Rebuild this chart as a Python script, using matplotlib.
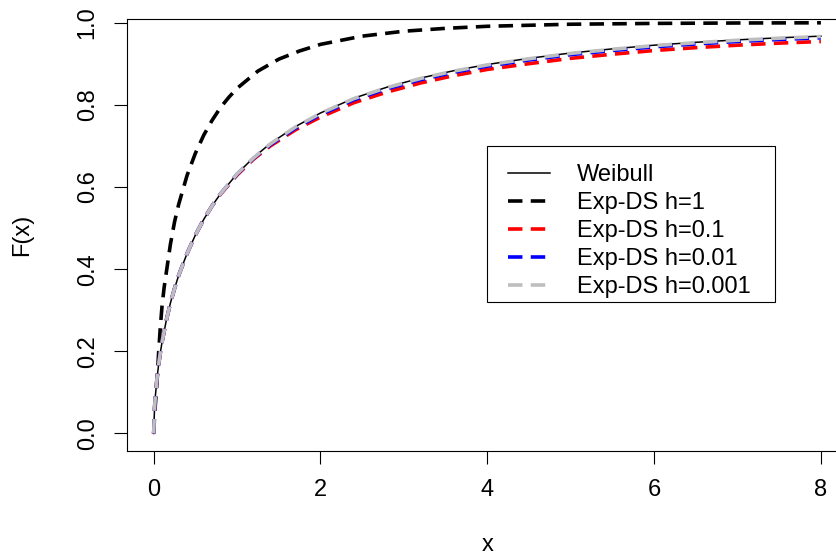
import matplotlib
matplotlib.use("Agg")
import matplotlib.pyplot as plt
from matplotlib.patches import Rectangle

plt.rcParams.update({
    'font.family': ['Liberation Sans', 'DejaVu Sans'],
    'font.size': 17,
})

# values
x_weibull = [0, 0.01, 0.02, 0.04, 0.06, 0.08, 0.1, 0.15, 0.2, 0.25, 0.3, 0.4, 0.5,
             0.6, 0.7, 0.8, 1.0, 1.2, 1.4, 1.7, 2.0, 2.4, 2.8, 3.2, 3.6, 4.0, 4.5,
             5.0, 5.5, 6.0, 6.5, 7.0, 7.5, 8.0]
F_weibull = [0, 0.061, 0.091, 0.135, 0.169, 0.197, 0.222, 0.274, 0.317, 0.353, 0.385,
             0.438, 0.483, 0.521, 0.554, 0.583, 0.632, 0.672, 0.706, 0.747, 0.780,
             0.816, 0.843, 0.865, 0.883, 0.898, 0.913, 0.926, 0.936, 0.945, 0.952,
             0.958, 0.963, 0.967]
F_h01 = [0, 0.061, 0.091, 0.135, 0.169, 0.197, 0.222, 0.274, 0.317, 0.353, 0.385,
         0.438, 0.483, 0.521, 0.554, 0.582, 0.629, 0.668, 0.700, 0.739, 0.770,
         0.805, 0.831, 0.853, 0.871, 0.886, 0.900, 0.913, 0.923, 0.932, 0.939,
         0.945, 0.950, 0.954]
F_h001 = [0, 0.061, 0.091, 0.135, 0.169, 0.197, 0.222, 0.274, 0.317, 0.353, 0.385,
          0.438, 0.483, 0.521, 0.554, 0.583, 0.631, 0.670, 0.703, 0.743, 0.776,
          0.812, 0.839, 0.861, 0.879, 0.894, 0.909, 0.922, 0.932, 0.941, 0.948,
          0.954, 0.959, 0.963]
F_h0001 = [0, 0.061, 0.091, 0.135, 0.169, 0.197, 0.222, 0.274, 0.317, 0.353, 0.385,
           0.438, 0.483, 0.521, 0.554, 0.583, 0.632, 0.671, 0.705, 0.746, 0.779,
           0.815, 0.842, 0.864, 0.882, 0.897, 0.912, 0.925, 0.935, 0.944, 0.951,
           0.957, 0.962, 0.966]

x_h1 = [0, 0.01, 0.02, 0.04, 0.06, 0.08, 0.1, 0.125, 0.15, 0.2, 0.25, 0.3, 0.4, 0.5,
        0.6, 0.7, 0.8, 0.9, 1.0, 1.25, 1.5, 1.75, 2.0, 2.5, 3.0, 3.5, 4.0, 5.0, 6.0,
        7.0, 8.0]
F_h1 = [0, 0.04, 0.07, 0.125, 0.20, 0.26, 0.31, 0.355, 0.39, 0.46, 0.515, 0.558,
        0.628, 0.682, 0.726, 0.762, 0.793, 0.818, 0.840, 0.882, 0.911, 0.931, 0.947,
        0.967, 0.979, 0.986, 0.991, 0.996, 0.998, 0.999, 0.9995]

labels = ['Weibull', 'Exp-DS h=1', 'Exp-DS h=0.1', 'Exp-DS h=0.01', 'Exp-DS h=0.001']

fig = plt.figure(figsize=(8.36, 5.57), dpi=100)
ax = fig.add_axes([127 / 836, 106.5 / 557, 720.6 / 836, 431.2 / 557])

dash = (4.0, 2.3)
ax.plot(x_weibull, F_weibull, color='black', lw=1.1, label=labels[0])
ax.plot(x_h1, F_h1, color='black', lw=2.6, dashes=dash, label=labels[1])
ax.plot(x_weibull, F_h01, color='#FF0000', lw=2.6, dashes=dash, label=labels[2])
ax.plot(x_weibull, F_h001, color='#0000FF', lw=2.6, dashes=dash, label=labels[3])
ax.plot(x_weibull, F_h0001, color='#BEBEBE', lw=2.6, dashes=dash, label=labels[4])

ax.set_xlim(-0.32, 8.32)
ax.set_ylim(-0.0414, 1.008)
ax.set_xticks([0, 2, 4, 6, 8])
ax.set_yticks([0.0, 0.2, 0.4, 0.6, 0.8, 1.0])
ax.set_yticklabels(['0.0', '0.2', '0.4', '0.6', '0.8', '1.0'], rotation=90, va='center')
ax.tick_params(length=9.4, width=0.8, pad=11)
for sp in ax.spines.values():
    sp.set_linewidth(0.8)

ax.set_xlabel('x')
ax.xaxis.label.set_va('center')
ax.xaxis.set_label_coords(0.5, -0.22)
ax.set_ylabel('F(x)')
ax.yaxis.label.set_va('center')
ax.yaxis.set_label_coords(-0.1457, 0.5)

# legend: R-style box drawn separately, entries placed inside it
ax.add_patch(Rectangle((0.4996, 0.3444), 0.3997, 0.3618, transform=ax.transAxes,
                       facecolor='white', edgecolor='black', lw=0.8, zorder=4))
leg = ax.legend(loc='upper left', bbox_to_anchor=((508 - 127) / 720.6, (557 - 164 - 106.5) / 431.2),
                frameon=False, handlelength=1.78, handletextpad=1.15, labelspacing=0.255,
                borderpad=0, borderaxespad=0)
leg.set_zorder(5)

fig.savefig('out.png', dpi=100)
